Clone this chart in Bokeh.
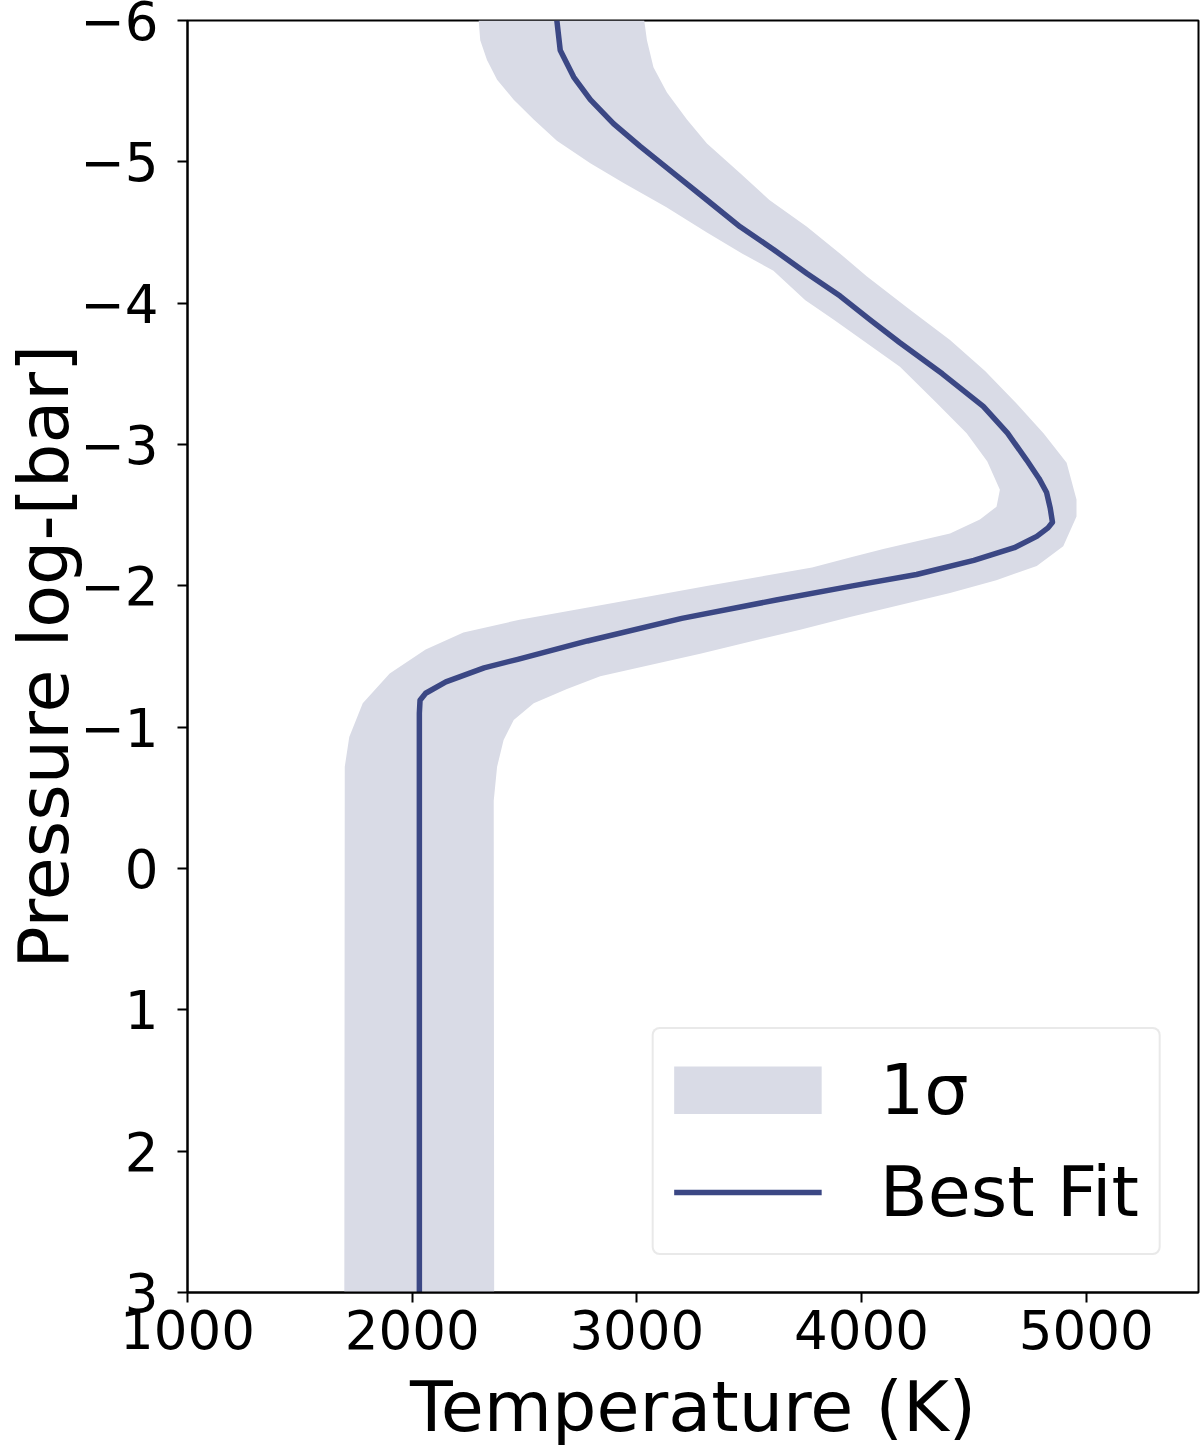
from bokeh.plotting import figure
from bokeh.models import Range1d, FixedTicker, Legend, LegendItem
from bokeh.embed import file_html
from bokeh.resources import INLINE

# ---- data ----
# Best-fit temperature profile: temperature (K) vs log10 pressure (bar)
fit_T = [2644, 2659, 2719, 2793, 2896, 3015, 3163, 3312, 3460,
         3608, 3757, 3905, 4040, 4171, 4360, 4542, 4650, 4735, 4790, 4824, 4840,
         4850, 4830, 4780, 4680, 4500, 4245, 3960, 3620, 3200, 2780, 2470, 2320,
         2150, 2060, 2035, 2032, 2032]
fit_P = [-6.00, -5.79, -5.60, -5.44, -5.27, -5.11, -4.92, -4.73, -4.54,
         -4.38, -4.21, -4.05, -3.88, -3.72, -3.50, -3.27, -3.08, -2.89, -2.76, -2.66, -2.55,
         -2.45, -2.41, -2.35, -2.27, -2.18, -2.08, -2.00, -1.90, -1.77, -1.61, -1.48, -1.42,
         -1.32, -1.24, -1.19, -1.10, 3.00]

# 1-sigma envelope, cold side (top to bottom)
band_left_T = [2296, 2303, 2333, 2378, 2452, 2541, 2644, 2793, 2941, 3130, 3312, 3470,
               3608, 3750, 3880, 4171, 4330, 4468, 4560, 4616, 4601, 4527, 4394, 4097,
               3949, 3780, 3317, 2900, 2478, 2228, 2060, 1900, 1780, 1720, 1700, 1698]
band_left_P = [-6.00, -5.86, -5.72, -5.58, -5.44, -5.30, -5.15, -4.99, -4.85, -4.68, -4.50, -4.35,
               -4.23, -4.02, -3.88, -3.55, -3.30, -3.08, -2.88, -2.68, -2.56, -2.47, -2.37, -2.26,
               -2.20, -2.13, -2.00, -1.88, -1.76, -1.67, -1.55, -1.38, -1.17, -0.93, -0.72, 3.00]

# 1-sigma envelope, hot side (top to bottom)
band_right_T = [3033, 3045, 3074, 3134, 3223, 3312, 3460, 3590, 3757, 3905,
                4023, 4210, 4394, 4550, 4690, 4810, 4913, 4957, 4957, 4898, 4780, 4600,
                4394, 3949, 3727, 3282, 2837, 2689, 2541, 2452, 2407, 2378, 2363, 2365]
band_right_P = [-6.00, -5.86, -5.67, -5.49, -5.30, -5.13, -4.92, -4.73, -4.54, -4.35,
                -4.19, -3.96, -3.74, -3.52, -3.29, -3.08, -2.87, -2.61, -2.49, -2.28, -2.14, -2.04,
                -1.95, -1.78, -1.69, -1.52, -1.36, -1.27, -1.17, -1.05, -0.91, -0.72, -0.48, 3.00]

x_ticks = [1000, 2000, 3000, 4000, 5000]
y_ticks = [-6, -5, -4, -3, -2, -1, 0, 1, 2, 3]
y_tick_labels = {t: (str(t).replace("-", "\u2212")) for t in y_ticks}

LINE_COLOR = "#3b4784"
BAND_COLOR = "#d9dbe6"
FONT = "DejaVu Sans"

p = figure(width=1200, height=1450, output_backend="svg", toolbar_location=None,
           x_range=Range1d(1000, 5500), y_range=Range1d(3, -6),
           min_border_left=187, min_border_right=2, min_border_top=20,
           min_border_bottom=157)

band = p.patch(band_left_T + band_right_T[::-1], band_left_P + band_right_P[::-1],
               fill_color=BAND_COLOR, fill_alpha=1.0, line_color=None)
line = p.line(fit_T, fit_P, line_color=LINE_COLOR, line_width=5.5,
              line_join="round")
# legend swatch for the band: a single-point line (draws nothing in the plot)
# whose legend glyph is a full-width filled block, as in the reference
band_swatch = p.line(x=band_left_T[-1:], y=band_left_P[-1:], line_color=BAND_COLOR,
                     line_width=48, line_cap="butt")

p.grid.visible = False
p.outline_line_color = "black"
p.outline_line_width = 2
p.outline_line_alpha = 1.0
p.background_fill_color = "white"
p.border_fill_color = "white"

for ax in (p.xaxis[0], p.yaxis[0]):
    ax.axis_line_width = 2
    ax.major_tick_line_width = 2
    ax.major_tick_in = 0
    ax.major_tick_out = 10
    ax.minor_tick_line_color = None
    ax.major_label_text_font = FONT
    ax.major_label_text_font_size = "53px"
    ax.major_label_text_color = "black"
    ax.axis_label_text_font = FONT
    ax.axis_label_text_font_size = "70px"
    ax.axis_label_text_font_style = "normal"
    ax.axis_label_text_color = "black"

p.xaxis.ticker = FixedTicker(ticks=x_ticks)
p.yaxis.ticker = FixedTicker(ticks=y_ticks)
p.yaxis.major_label_overrides = y_tick_labels
p.xaxis.axis_label = "Temperature (K)"
p.yaxis.axis_label = "Pressure log-[bar]"
p.xaxis.major_label_standoff = 7
p.xaxis.axis_label_standoff = 14
p.yaxis.major_label_standoff = 19
p.yaxis.axis_label_standoff = -8

legend = Legend(items=[LegendItem(label="1\u03c3", renderers=[band_swatch]),
                       LegendItem(label="Best Fit", renderers=[line])],
                location="bottom_right", margin=37,
                label_text_font=FONT, label_text_font_size="70px",
                label_text_color="black",
                glyph_width=148, glyph_height=48, label_standoff=58,
                padding=20, spacing=20,
                border_line_color="#d4d4d4", border_line_width=2,
                background_fill_color="white", background_fill_alpha=1.0)
if "border_radius" in Legend.properties():
    legend.border_radius = 8
p.add_layout(legend)

open("out.html", "w").write(file_html(p, INLINE))
